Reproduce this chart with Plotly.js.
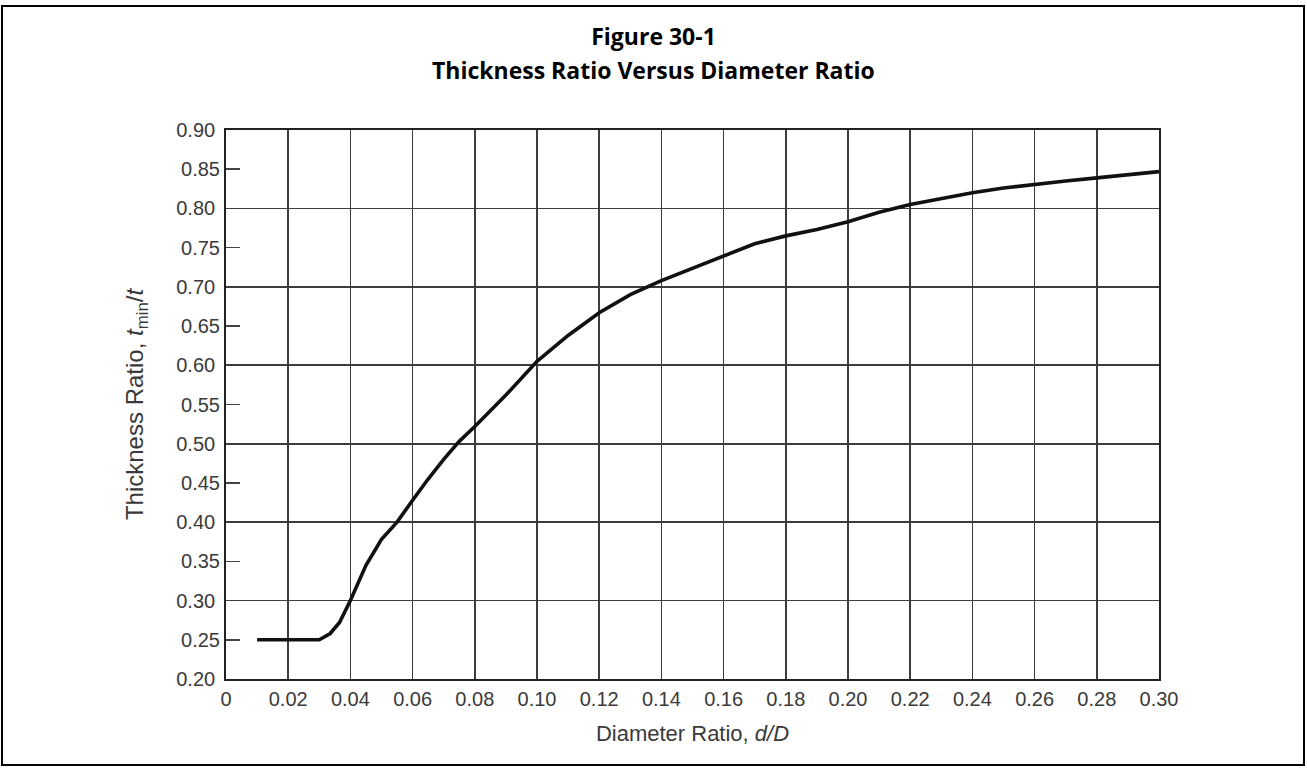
<!DOCTYPE html>
<html>
<head>
<meta charset="utf-8">
<script src="https://cdn.plot.ly/plotly-3.0.1.min.js"></script>
<style>
  html, body { margin: 0; padding: 0; background: #ffffff; }
  #wrap { position: relative; width: 1307px; height: 768px; }
  #chart { position: absolute; left: 0; top: 0; width: 1307px; height: 768px; }
  #frame { position: absolute; left: 1px; top: 5px; width: 1300px; height: 757px;
           border: 2.5px solid #000; pointer-events: none; }
</style>
</head>
<body>
<div id="wrap">
  <div id="chart"></div>
  <div id="frame"></div>
</div>
<script>
// ---- data ----
const diameterRatio = [0.010, 0.020, 0.030, 0.0335, 0.0365, 0.040, 0.045, 0.050, 0.055, 0.060,
                       0.065, 0.070, 0.075, 0.080, 0.090, 0.100, 0.110, 0.120, 0.130, 0.140,
                       0.150, 0.160, 0.170, 0.180, 0.190, 0.200, 0.210, 0.220, 0.230, 0.240,
                       0.250, 0.260, 0.270, 0.280, 0.290, 0.300];
const thicknessRatio = [0.250, 0.250, 0.250, 0.258, 0.272, 0.300, 0.345, 0.378, 0.400, 0.428,
                        0.455, 0.480, 0.503, 0.522, 0.562, 0.605, 0.638, 0.667, 0.690, 0.708,
                        0.724, 0.739, 0.755, 0.765, 0.773, 0.783, 0.795, 0.805, 0.813, 0.820,
                        0.826, 0.831, 0.835, 0.839, 0.843, 0.847];

const xTickVals = [0, 0.02, 0.04, 0.06, 0.08, 0.10, 0.12, 0.14, 0.16, 0.18, 0.20, 0.22, 0.24, 0.26, 0.28, 0.30];
const xTickText = ['0', '0.02', '0.04', '0.06', '0.08', '0.10', '0.12', '0.14', '0.16', '0.18', '0.20', '0.22', '0.24', '0.26', '0.28', '0.30'];
const yGridVals = [0.20, 0.30, 0.40, 0.50, 0.60, 0.70, 0.80, 0.90];
const yGridText = ['0.20', '0.30', '0.40', '0.50', '0.60', '0.70', '0.80', '0.90'];
const yMidVals = [0.25, 0.35, 0.45, 0.55, 0.65, 0.75, 0.85];
const yMidText = ['0.25', '0.35', '0.45', '0.55', '0.65', '0.75', '0.85'];

const titleLine1 = 'Figure 30-1';
const titleLine2 = 'Thickness Ratio Versus Diameter Ratio';
const xTitle = 'Diameter Ratio, <i>d/D</i>';
const yTitle = 'Thickness Ratio, <i>t</i><sub>min</sub>/<i>t</i>';

// ---- styling ----
const tickFont = { family: 'Liberation Sans, Arial, sans-serif', size: 20, color: '#3a3a3a' };
const xTitleFont = { family: 'Liberation Sans, Arial, sans-serif', size: 22, color: '#3a3a3a' };
const yTitleFont = { family: 'Liberation Sans, Arial, sans-serif', size: 24, color: '#3a3a3a' };
const headFont = { family: '"Open Sans", Lato, sans-serif', size: 23, color: '#000000', weight: 700 };
const gridColor = '#3c3c3c';

const traces = [
  {
    x: diameterRatio, y: thicknessRatio, type: 'scatter', mode: 'lines',
    line: { color: '#111111', width: 3.6 }, hoverinfo: 'skip', showlegend: false
  },
  {
    x: [null], y: [null], yaxis: 'y2', type: 'scatter', mode: 'lines',
    hoverinfo: 'skip', showlegend: false
  }
];

const layout = {
  width: 1307, height: 768,
  paper_bgcolor: '#ffffff', plot_bgcolor: '#ffffff',
  margin: { l: 226, r: 148, t: 130, b: 89, pad: 0 },
  showlegend: false,
  title: {
    text: '<b>' + titleLine1 + '</b>',
    x: 0.5, xanchor: 'center', xref: 'container',
    y: 1 - 37 / 768, yanchor: 'middle', yref: 'container',
    font: headFont
  },
  annotations: [
    {
      text: '<b>' + titleLine2 + '</b>', showarrow: false,
      xref: 'paper', x: (653 - 226) / 933, xanchor: 'center',
      yref: 'paper', y: (679 - 70) / 549, yanchor: 'middle',
      font: headFont
    }
  ],
  xaxis: {
    range: [0, 0.30], tickmode: 'array', tickvals: xTickVals, ticktext: xTickText,
    showgrid: true, gridcolor: gridColor, gridwidth: 1.6,
    zeroline: false, showline: true, linecolor: '#222222', linewidth: 1.8, mirror: true,
    ticks: '', ticklabelstandoff: 1, tickfont: tickFont,
    title: { text: xTitle, font: xTitleFont, standoff: 17 },
    fixedrange: true
  },
  yaxis: {
    range: [0.20, 0.90], tickmode: 'array', tickvals: yGridVals, ticktext: yGridText,
    showgrid: true, gridcolor: gridColor, gridwidth: 1.6,
    zeroline: false, showline: true, linecolor: '#222222', linewidth: 1.8, mirror: true,
    ticks: '', ticklabelstandoff: 5, tickfont: tickFont,
    title: { text: yTitle, font: yTitleFont, standoff: 26 },
    fixedrange: true
  },
  yaxis2: {
    overlaying: 'y', side: 'left', anchor: 'x',
    range: [0.20, 0.90], tickmode: 'array', tickvals: yMidVals, ticktext: yMidText,
    showgrid: false, zeroline: false, showline: false,
    ticks: 'inside', ticklen: 14, tickwidth: 1.6, tickcolor: '#444444',
    ticklabelstandoff: 5, tickfont: tickFont, fixedrange: true
  }
};

Plotly.newPlot('chart', traces, layout, { displayModeBar: false, staticPlot: true });
</script>
</body>
</html>
